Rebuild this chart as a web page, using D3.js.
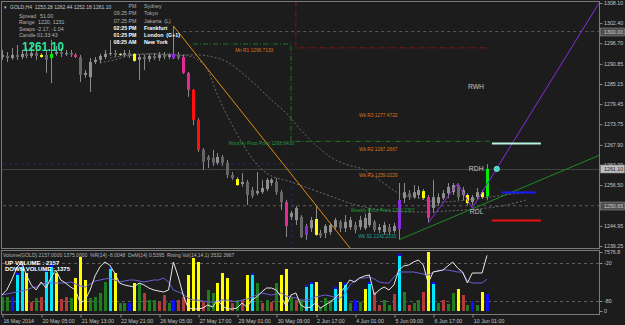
<!DOCTYPE html>
<html>
<head>
<meta charset="utf-8">
<script src="https://cdn.jsdelivr.net/npm/d3@7"></script>
<style>
  body { margin: 0; background: #1c1c1c; }
  text { font-family: "Liberation Sans", Arial, sans-serif; }
</style>
</head>
<body>
<div id="chart"></div>
<script>
// ---- candles (GOLD, H4) ----
const opens = [1292.8,1293.1,1292.5,1293.4,1292.8,1293.7,1293.1,1293.9,1292.8,1293.4,1292.5,1293.7,1294.2,1293.7,1293.9,1293.4,1292.8,1287.7,1287.1,1291.4,
  1292.0,1292.8,1293.7,1293.9,1293.7,1293.4,1293.9,1293.7,1292.0,1292.8,1292.2,1293.1,1292.5,1293.4,1292.8,1292.5,1293.4,1292.8,1288.3,1283.5,
  1275.0,1266.5,1264.5,1264.2,1262.8,1264.5,1262.8,1259.4,1258.2,1256.8,1257.4,1255.1,1254.2,1254.5,1255.4,1257.1,1257.4,1254.5,1251.7,1247.5,
  1246.6,1247.5,1242.4,1244.3,1242.4,1242.9,1242.9,1243.2,1244.6,1246.1,1244.3,1244.6,1245.2,1244.6,1244.3,1245.2,1246.1,1243.8,1243.2,1244.6,
  1243.5,1244.1,1252.8,1254.2,1253.1,1253.7,1254.8,1253.1,1250.0,1251.4,1252.8,1254.2,1254.5,1256.5,1253.7,1253.7,1251.7,1253.1,1253.1,1253.28];
const highs = [1294.8,1294.2,1295.4,1296.2,1294.8,1295.4,1296.5,1296.2,1293.9,1294.8,1297.6,1295.9,1295.4,1294.8,1294.8,1293.9,1293.4,1289.1,1292.5,1292.8,
  1293.7,1294.8,1297.6,1294.8,1293.9,1294.8,1294.8,1293.9,1293.4,1293.4,1293.7,1293.9,1294.2,1294.2,1293.9,1301.6,1294.2,1293.4,1288.6,1283.7,
  1275.5,1267.0,1265.0,1266.5,1265.6,1265.0,1263.6,1260.2,1258.8,1259.9,1258.0,1256.0,1260.2,1258.0,1258.5,1258.5,1258.5,1255.1,1252.3,1249.2,
  1250.6,1248.0,1245.5,1247.5,1250.3,1243.8,1245.5,1245.8,1247.2,1246.6,1248.0,1247.5,1246.1,1247.8,1248.3,1250.0,1246.6,1245.5,1246.1,1245.5,
  1245.8,1257.1,1257.1,1255.1,1256.5,1256.3,1255.4,1253.7,1258.0,1254.2,1255.1,1257.1,1257.1,1257.0,1256.0,1254.2,1253.7,1255.7,1255.1,1262.44];
const lows = [1292.0,1291.4,1292.0,1292.0,1292.2,1292.5,1292.5,1292.0,1292.5,1288.3,1285.4,1293.1,1292.8,1293.1,1292.8,1292.5,1285.7,1286.9,1282.9,1290.8,
  1291.1,1292.2,1293.1,1292.8,1293.1,1292.8,1292.5,1291.4,1286.3,1289.1,1291.4,1292.0,1291.7,1292.2,1292.2,1292.2,1292.0,1288.0,1281.5,1273.5,
  1265.9,1260.8,1261.3,1261.9,1262.2,1261.9,1258.5,1258.0,1256.3,1256.0,1250.9,1252.8,1253.7,1254.0,1254.8,1256.3,1253.7,1249.5,1241.8,1246.6,
  1245.2,1241.5,1241.0,1243.2,1242.1,1241.5,1241.5,1242.4,1243.8,1243.2,1243.2,1243.8,1242.9,1243.8,1243.8,1244.6,1243.2,1242.9,1242.4,1242.6,
  1242.9,1241.0,1251.4,1252.3,1252.6,1252.8,1252.3,1245.8,1248.6,1250.6,1252.3,1252.8,1253.7,1252.3,1252.3,1250.9,1250.9,1252.3,1252.6,1252.18];
const closes = [1293.4,1292.5,1293.4,1292.8,1293.7,1293.1,1293.9,1293.1,1293.4,1292.0,1293.7,1294.2,1293.7,1293.9,1293.4,1292.8,1287.7,1288.3,1291.4,1292.0,
  1293.1,1293.7,1293.9,1293.4,1293.4,1293.9,1293.1,1291.7,1292.8,1292.2,1293.1,1292.5,1293.4,1292.8,1293.4,1293.7,1292.5,1288.3,1283.5,1275.0,
  1266.5,1263.1,1263.6,1262.8,1264.5,1262.8,1259.4,1258.5,1256.5,1257.4,1253.7,1253.4,1254.8,1255.7,1258.0,1258.0,1254.5,1251.7,1244.9,1248.6,
  1250.0,1241.8,1244.9,1246.6,1246.9,1242.1,1244.9,1245.2,1246.6,1244.3,1246.1,1246.6,1243.8,1246.6,1247.2,1248.6,1243.8,1244.6,1245.2,1243.2,
  1244.9,1252.3,1254.5,1253.1,1254.5,1255.1,1252.8,1247.2,1253.1,1253.1,1254.2,1256.0,1256.5,1253.1,1255.1,1251.4,1253.1,1254.5,1254.5,1261.10];

// bars painted by the signal indicator
const markedBars   = [8,10,15,24,27,35,37,38,39,40,48,58,62,64,81,86,87,95,98,99];
const markedColors = ['y','g','m','y','y','p','m','m','r','r','y','m','p','y','p','y','m','y','y','g'];

// ---- volume sub window ----
const volumes = [1798,1798,1800,4879,5906,4879,1156,1669,1798,5264,5906,4879,1541,1798,1669,4237,6934,3980,1669,1798,
  2311,3724,5650,4879,1027,1027,1027,3595,3595,2311,1412,1412,1156,2054,1027,1412,1412,1798,4622,6805,
  6292,1156,2696,2311,3595,4879,4237,1027,1412,1412,4622,4879,3595,1027,1412,1156,3595,4622,5393,1669,
  1412,1412,3338,3724,3724,514,1669,1412,3082,3724,3595,1027,1412,1156,2825,3724,2440,770,1412,770,
  2183,7319,2440,770,1027,1412,2440,7576.8,3724,1027,1412,899,2311,2825,2054,770,1284,770,2440,2157];
const volumeKinds = ['g','g','b','c','c','y','r','g','r','c','c','y','r','r','g','y','y','y','g','g',
  'g','g','c','y','g','g','b','y','g','r','g','g','r','r','g','b','r','r','y','y',
  'y','r','g','g','y','y','y','r','g','r','y','c','g','r','g','r','g','y','y','g',
  'r','g','c','c','y','g','g','g','c','y','c','g','b','g','y','c','r','r','g','g',
  'r','c','g','r','g','g','r','y','c','g','r','g','g','y','r','g','b','g','y','b'];
const wprValues = [-70.5,-62.6,-46.8,-27.9,-18.4,-38.9,-54.7,-62.6,-50.0,-59.5,-43.7,-31.1,-46.8,-51.6,-57.9,-62.6,-83.2,-78.4,-62.6,-40.5,
  -26.3,-18.4,-23.2,-35.8,-51.6,-54.7,-56.3,-57.9,-51.6,-54.7,-59.5,-62.6,-64.2,-65.8,-62.6,-18.4,-42.1,-70.5,-91.1,-92.6,
  -92.6,-91.1,-86.3,-89.5,-78.4,-87.9,-92.6,-92.6,-91.1,-83.2,-89.5,-78.4,-73.7,-65.8,-59.5,-59.5,-62.6,-73.7,-87.9,-70.5,
  -67.4,-86.3,-91.1,-89.5,-83.2,-91.1,-86.3,-81.6,-75.3,-67.4,-57.9,-46.8,-50.0,-43.7,-40.5,-38.9,-70.5,-62.6,-57.9,-62.6,
  -54.7,-31.1,-24.7,-23.2,-18.4,-15.3,-23.2,-51.6,-34.2,-32.6,-31.1,-24.7,-18.4,-27.9,-34.2,-51.6,-35.8,-35.8,-35.8,-8.0048];
const demValues = [.271,.288,.305,.322,.339,.356,.390,.407,.458,.475,.475,.475,.475,.475,.492,.458,.424,.407,.458,.508,
  .525,.542,.559,.525,.492,.508,.525,.525,.508,.492,.508,.525,.525,.559,.492,.356,.322,.288,.220,.186,
  .186,.169,.153,.153,.169,.186,.186,.169,.153,.186,.203,.237,.271,.305,.288,.271,.288,.305,.254,.237,
  .220,.186,.186,.203,.237,.254,.271,.254,.237,.220,.288,.441,.508,.559,.559,.576,.542,.492,.475,.475,
  .576,.661,.661,.661,.661,.644,.627,.610,.661,.678,.695,.695,.678,.661,.661,.508,.475,.475,.475,.5395];

// ---- moving averages (dashed, shifted forward) ----
const maSlowBars = [20,23,27,32,36,40,43,46,49,52,55,58,61,64,67,70,74,77,81,85,89,93,97,101,107];
const maSlowVals = [1291.1,1292.0,1293.4,1293.7,1293.4,1293.4,1292.8,1291.4,1288.3,1284.6,1280.6,1276.9,1272.1,1267.9,1264.5,1262.5,1260.8,1258.0,1254.2,1252.8,1251.7,1252.0,1252.6,1253.4,1254.5];
const maFastBars = [22,26,30,34,38,40,42,44,47,49,51,54,59,63,67,71,75,79,83,87,91,95,99,103,107];
const maFastVals = [1292.5,1293.4,1293.7,1293.4,1293.1,1292.0,1289.1,1282.0,1273.5,1268.5,1264.2,1259.9,1257.4,1255.4,1253.4,1251.4,1250.0,1249.2,1248.9,1248.9,1249.2,1249.5,1250.0,1250.9,1252.3];

// ---- drawn objects ----
const trendOrange = [[35,1301.6],[72,1237.0]];
const trendGreen  = [[81,1241.0],[122,1265.0]];
const zigzag      = [[87,1245.8],[93,1256.9],[96,1250.0],[122,1308.4]];
const monthPivot  = [[39,1296.5],[59,1296.5],[59,1268.9],[99.5,1268.9]];
const monthRed    = [[60,1308.5],[60,1295.4],[99.5,1295.4]];
const navyLevel   = [[-1,1262.5],[59.2,1262.5],[59.2,1238]];
const level1300   = [[37,1300.0],[124,1300.0]];
const levelMid    = [[-1,1250.65],[124,1250.65]];
const bidPrice    = 1261.10;
const targetLevels = [[100,110,1268.5,'w'],[102,109,1254.5,'b'],[100,110,1246.6,'r']];
const signalDot = [101,1261.1];

const annotations = [
  ['Mn R1 1296.7133', 47.6, 1294.8, 'o'],
  ['Monthly Pivot Point 1268.6400', 46.3, 1268.4, 'g'],
  ['Wk R3 1277.4722', 72.9, 1276.4, 'o'],
  ['Wk R2 1267.2667', 72.9, 1266.7, 'o'],
  ['Wk R1 1259.0229', 72.9, 1259.4, 'o'],
  ['Weekly Pivot Point 1250.2367', 71.2, 1249.5, 'g'],
  ['Wk S1 1242.2333', 72.7, 1242.1, 't']
];
const rangeTags = [['RWH',95.1,1284.3],['RDH',95.3,1261.3],['RDL',95.5,1248.9]];

// ---- axes ----
const priceTicks = [1308.10,1302.40,1296.70,1290.85,1285.15,1279.45,1273.75,1267.90,1262.20,1256.50,1250.65,1244.95,1239.25];
const dateBars   = [0,8,16,24,32,40,48,56,64,72,80,88,96];
const dateLabels = ['16 May 2014','20 May 05:00','21 May 13:00','22 May 21:00','26 May 05:00','27 May 17:00',
  '29 May 01:00','30 May 09:00','2 Jun 17:00','4 Jun 01:00','5 Jun 09:00','6 Jun 17:00','10 Jun 01:00'];

// ---- info panel ----
const headerText = 'GOLD,H4  1253.28 1262.44 1252.18 1261.10';
const infoNames  = ['Spread','Range','Swaps','Candle'];
const infoValues = ['51.00','1220, 1231','-2.17, -1.04','01:33:43'];
const sessionNames = ['Sydney','Tokyo','Jakarta  (L)','Frankfurt','London  (G+1)','New York'];
const sessionTimes = ['PM','09:25 PM','07:25 PM','02:25 PM','01:25 PM','08:25 AM'];
const sessionOpen  = [false,false,false,true,true,true];
const subTitle = 'Volume(GOLD) 2157.0000 1375.0000  %R(14) -8.0048  DeM(14) 0.5395  Rising Vol(14,14,1) 3532 3967';

const candleColor = {y:'#ffff00', g:'#00ee00', m:'#e62a94', p:'#8a2be2', r:'#ff1010'};
const volColor = {y:'#ffff00', g:'#1e7d1e', r:'#b33a3a', c:'#00e8ff', b:'#1010ff'};
const noteColor = {o:'#d9761a', g:'#1f9a3a', t:'#1aa58e'};
const levelColor = {w:'#b8f5e0', b:'#1a1aff', r:'#ee1111'};

// ---- layout ----
const W = 625, H = 325;
const mainTop = 1.5, mainBottom = 248.5, lowTop = 250.5, lowBottom = 314.5, plotRight = 599.5;

const x = d3.scaleLinear().domain([0, 99]).range([1.9, 487]);
const y = d3.scaleLinear().domain([1239.25, 1308.10]).range([246, 3]);
const yVol = d3.scaleLinear().domain([0, 7576.8]).range([311, 252]);
const yWpr = d3.scaleLinear().domain([-80, -20]).range([301, 263]);
const yDem = d3.scaleLinear().domain([0, 1]).range([311, 252]);
const px = v => Math.round(x(v)) + 0.5;

const svg = d3.select('#chart').append('svg')
  .attr('width', W).attr('height', H)
  .style('background', '#1c1c1c')
  .style('display', 'block');

const defs = svg.append('defs');
defs.append('clipPath').attr('id', 'clipMain').append('rect')
  .attr('x', 2).attr('y', 2).attr('width', 597).attr('height', 246);
defs.append('clipPath').attr('id', 'clipLow').append('rect')
  .attr('x', 2).attr('y', 251).attr('width', 597).attr('height', 63);

const main = svg.append('g').attr('clip-path', 'url(#clipMain)');
const low = svg.append('g').attr('clip-path', 'url(#clipLow)');

const line = d3.line().x(d => x(d[0])).y(d => y(d[1]));

// levels behind the candles
main.append('line')
  .attr('x1', 2).attr('x2', plotRight)
  .attr('y1', Math.round(y(bidPrice)) + 0.5).attr('y2', Math.round(y(bidPrice)) + 0.5)
  .attr('stroke', '#3a443c');
main.append('path').attr('d', line(levelMid))
  .attr('fill', 'none').attr('stroke', '#5c5c5c').attr('stroke-dasharray', '3,3');
main.append('path').attr('d', line(level1300))
  .attr('fill', 'none').attr('stroke', '#5c5c5c').attr('stroke-dasharray', '3,3');
main.append('path').attr('d', line(navyLevel))
  .attr('fill', 'none').attr('stroke', '#22228a').attr('stroke-dasharray', '3,3');
main.append('path').attr('d', line(monthPivot))
  .attr('fill', 'none').attr('stroke', '#1f7a1f').attr('stroke-dasharray', '5,2,1,2');
main.append('path').attr('d', line(monthRed))
  .attr('fill', 'none').attr('stroke', '#8b1515').attr('stroke-dasharray', '5,2,1,2');

// moving averages
const maLine = d3.line().curve(d3.curveMonotoneX).x(d => x(d[0])).y(d => y(d[1]));
main.append('path').attr('d', maLine(maSlowBars.map((b, i) => [b, maSlowVals[i]])))
  .attr('fill', 'none').attr('stroke', '#6a6a6a').attr('stroke-dasharray', '2,2');
main.append('path').attr('d', maLine(maFastBars.map((b, i) => [b, maFastVals[i]])))
  .attr('fill', 'none').attr('stroke', '#6a6a6a').attr('stroke-dasharray', '2,2');

// candles
const bars = closes.map((c, i) => {
  const k = markedBars.indexOf(i);
  return {i, o: opens[i], h: highs[i], l: lows[i], c, mark: k >= 0 ? markedColors[k] : null};
});
main.selectAll('.wick').data(bars).join('line')
  .attr('class', 'wick')
  .attr('x1', d => px(d.i)).attr('x2', d => px(d.i))
  .attr('y1', d => y(d.h)).attr('y2', d => y(d.l))
  .attr('stroke', '#8a8a8a');
main.selectAll('.body').data(bars).join('rect')
  .attr('class', 'body')
  .attr('x', d => Math.round(x(d.i)) - 1)
  .attr('width', 3)
  .attr('y', d => y(Math.max(d.o, d.c)))
  .attr('height', d => Math.max(1, Math.abs(y(d.o) - y(d.c))))
  .attr('fill', d => d.mark ? candleColor[d.mark] : (d.c >= d.o ? '#8e8e8e' : '#666666'));

// drawn trend lines
main.append('path').attr('d', line(trendOrange)).attr('fill', 'none').attr('stroke', '#e08c10');
main.append('path').attr('d', line(trendGreen)).attr('fill', 'none').attr('stroke', '#1f8a1f');
main.append('path').attr('d', line(zigzag)).attr('fill', 'none').attr('stroke', '#8a2be2');

// target levels
main.selectAll('.target').data(targetLevels).join('line')
  .attr('class', 'target')
  .attr('x1', d => x(d[0])).attr('x2', d => x(d[1]))
  .attr('y1', d => Math.round(y(d[2])) + 0.5).attr('y2', d => Math.round(y(d[2])) + 0.5)
  .attr('stroke', d => levelColor[d[3]]).attr('stroke-width', 2);

main.append('circle')
  .attr('cx', x(signalDot[0])).attr('cy', y(signalDot[1])).attr('r', 2.6)
  .attr('fill', '#3fd6c8').attr('stroke', '#8ff5ea').attr('stroke-width', 0.8);

// annotations
main.selectAll('.note').data(annotations).join('text')
  .attr('class', 'note')
  .attr('x', d => x(d[1])).attr('y', d => y(d[2]))
  .attr('dy', '0.35em')
  .attr('font-size', 4.8)
  .attr('fill', d => noteColor[d[3]])
  .text(d => d[0]);
main.selectAll('.tag').data(rangeTags).join('text')
  .attr('class', 'tag')
  .attr('x', d => x(d[1])).attr('y', d => y(d[2]))
  .attr('dy', '0.35em')
  .attr('font-size', 6.8)
  .attr('fill', '#c4c4c4')
  .text(d => d[0]);

// info panel
const info = svg.append('g');
info.append('text').attr('x', 3).attr('y', 8.5).attr('font-size', 4.5).attr('fill', '#bdbdbd').text('\u25BC');
info.append('text').attr('x', 10).attr('y', 8.5).attr('font-size', 5).attr('fill', '#c8c8c8')
  .attr('xml:space', 'preserve').text(headerText);
info.selectAll('.iname').data(infoNames).join('text')
  .attr('class', 'iname')
  .attr('x', 19).attr('y', (d, i) => 18 + i * 6.4)
  .attr('font-size', 5.3).attr('fill', '#b4b4b4').text(d => d);
info.selectAll('.ival').data(infoValues).join('text')
  .attr('class', 'ival')
  .attr('x', (d, i) => [40, 38, 36.5, 37][i]).attr('y', (d, i) => 18 + i * 6.4)
  .attr('font-size', 5.3).attr('fill', '#b4b4b4').text(d => d);
info.append('text').attr('x', 22).attr('y', 50.5)
  .attr('font-size', 13).attr('font-weight', 'bold').attr('fill', '#2ee39e')
  .attr('textLength', 42).attr('lengthAdjust', 'spacingAndGlyphs')
  .text(closes[closes.length - 1].toFixed(2));
info.selectAll('.stime').data(sessionTimes).join('text')
  .attr('class', 'stime')
  .attr('x', 136.5).attr('y', (d, i) => 8.3 + i * 7.1)
  .attr('text-anchor', 'end')
  .attr('font-size', 5.3)
  .attr('font-weight', (d, i) => sessionOpen[i] ? 'bold' : 'normal')
  .attr('fill', (d, i) => sessionOpen[i] ? '#ffffff' : '#b0b0b0')
  .text(d => d);
info.selectAll('.sname').data(sessionNames).join('text')
  .attr('class', 'sname')
  .attr('x', 144).attr('y', (d, i) => 8.3 + i * 7.1)
  .attr('font-size', 5.3)
  .attr('font-weight', (d, i) => sessionOpen[i] ? 'bold' : 'normal')
  .attr('fill', (d, i) => sessionOpen[i] ? '#ffffff' : '#b0b0b0')
  .attr('xml:space', 'preserve')
  .text(d => d);

// ---- lower window ----
low.selectAll('.lvl').data([-20, -80]).join('line')
  .attr('class', 'lvl')
  .attr('x1', 2).attr('x2', plotRight)
  .attr('y1', d => Math.round(yWpr(d)) + 0.5).attr('y2', d => Math.round(yWpr(d)) + 0.5)
  .attr('stroke', '#5e5e5e').attr('stroke-dasharray', '3,3');

const vols = volumes.map((v, i) => ({i, v, k: volumeKinds[i]}));
low.selectAll('.vol').data(vols).join('rect')
  .attr('class', 'vol')
  .attr('x', d => Math.round(x(d.i)) - 1)
  .attr('width', 3)
  .attr('y', d => yVol(d.v))
  .attr('height', d => yVol(0) - yVol(d.v))
  .attr('fill', d => volColor[d.k]);
low.selectAll('.cap').data(vols.filter(d => d.k === 'c')).join('rect')
  .attr('class', 'cap')
  .attr('x', d => Math.round(x(d.i)) - 1)
  .attr('width', 3)
  .attr('y', d => yVol(d.v))
  .attr('height', 2)
  .attr('fill', '#1010ff');

low.append('path')
  .attr('d', d3.line().x((d, i) => x(i)).y(d => yDem(d))(demValues))
  .attr('fill', 'none').attr('stroke', '#6a5fd8');
low.append('path')
  .attr('d', d3.line().x((d, i) => x(i)).y(d => yWpr(d))(wprValues))
  .attr('fill', 'none').attr('stroke', '#e6e6e6');

svg.append('text').attr('x', 3).attr('y', 256.5).attr('font-size', 5).attr('fill', '#b4b4b4')
  .attr('xml:space', 'preserve').text(subTitle);
svg.append('text').attr('x', 5).attr('y', 264.5).attr('font-size', 6).attr('font-weight', 'bold')
  .attr('fill', '#ffffff').text('UP VOLUME : ' + volumes[volumes.length - 1]);
svg.append('text').attr('x', 5).attr('y', 271.3).attr('font-size', 6).attr('font-weight', 'bold')
  .attr('fill', '#ffffff').text('DOWN VOLUME : 1375');

// ---- frames ----
const frame = svg.append('g').attr('fill', 'none').attr('stroke', '#7a7a7a');
frame.append('rect').attr('x', 1.5).attr('y', mainTop).attr('width', plotRight - 1.5).attr('height', mainBottom - mainTop);
frame.append('rect').attr('x', 1.5).attr('y', lowTop).attr('width', plotRight - 1.5).attr('height', lowBottom - lowTop);

// ---- axes ----
function styleAxis(g) {
  g.select('.domain').remove();
  g.selectAll('line').attr('stroke', '#8a8a8a');
  g.selectAll('text').attr('fill', '#c6c6c6').attr('font-size', 5.3)
    .attr('font-family', '"Liberation Sans", Arial, sans-serif');
}

svg.append('g')
  .attr('transform', `translate(${plotRight},0)`)
  .call(d3.axisRight(y).tickValues(priceTicks).tickFormat(d => d.toFixed(2)).tickSize(3).tickPadding(1.5))
  .call(styleAxis);

svg.append('g')
  .attr('transform', `translate(${plotRight},0)`)
  .call(d3.axisRight(yVol).tickValues([7576.8, 0]).tickFormat(d => d ? d.toFixed(1) : '0').tickSize(3).tickPadding(1.5))
  .call(styleAxis);
svg.append('g')
  .attr('transform', `translate(${plotRight},0)`)
  .call(d3.axisRight(yWpr).tickValues([-20, -80]).tickFormat(d => String(d)).tickSize(3).tickPadding(1.5))
  .call(styleAxis);

svg.append('g')
  .attr('transform', `translate(0,${lowBottom})`)
  .call(d3.axisBottom(x).tickValues(dateBars).tickFormat((d, i) => dateLabels[i]).tickSize(3).tickPadding(1.5))
  .call(styleAxis)
  .call(g => g.selectAll('.tick line').attr('transform', d => `translate(${px(d) - x(d)},0)`))
  .call(g => g.selectAll('text').attr('text-anchor', 'start').attr('x', 1));

// price boxes on the scale
const priceBoxes = [[1300.00, '#4e4e4e', '#d0d0d0'], [1261.10, '#bdbdbd', '#1c1c1c'], [1250.65, '#4e4e4e', '#d0d0d0']];
const boxes = svg.selectAll('.pbox').data(priceBoxes).join('g')
  .attr('class', 'pbox')
  .attr('transform', d => `translate(${plotRight + 1},${Math.round(y(d[0]))})`);
boxes.append('rect').attr('x', 0).attr('y', -4).attr('width', 24).attr('height', 8)
  .attr('fill', d => d[1]).attr('stroke', '#8a8a8a').attr('stroke-width', 0.6);
boxes.append('text').attr('x', 3.5).attr('dy', '0.35em').attr('font-size', 5.3)
  .attr('fill', d => d[2]).text(d => d[0].toFixed(2));
</script>
</body>
</html>
